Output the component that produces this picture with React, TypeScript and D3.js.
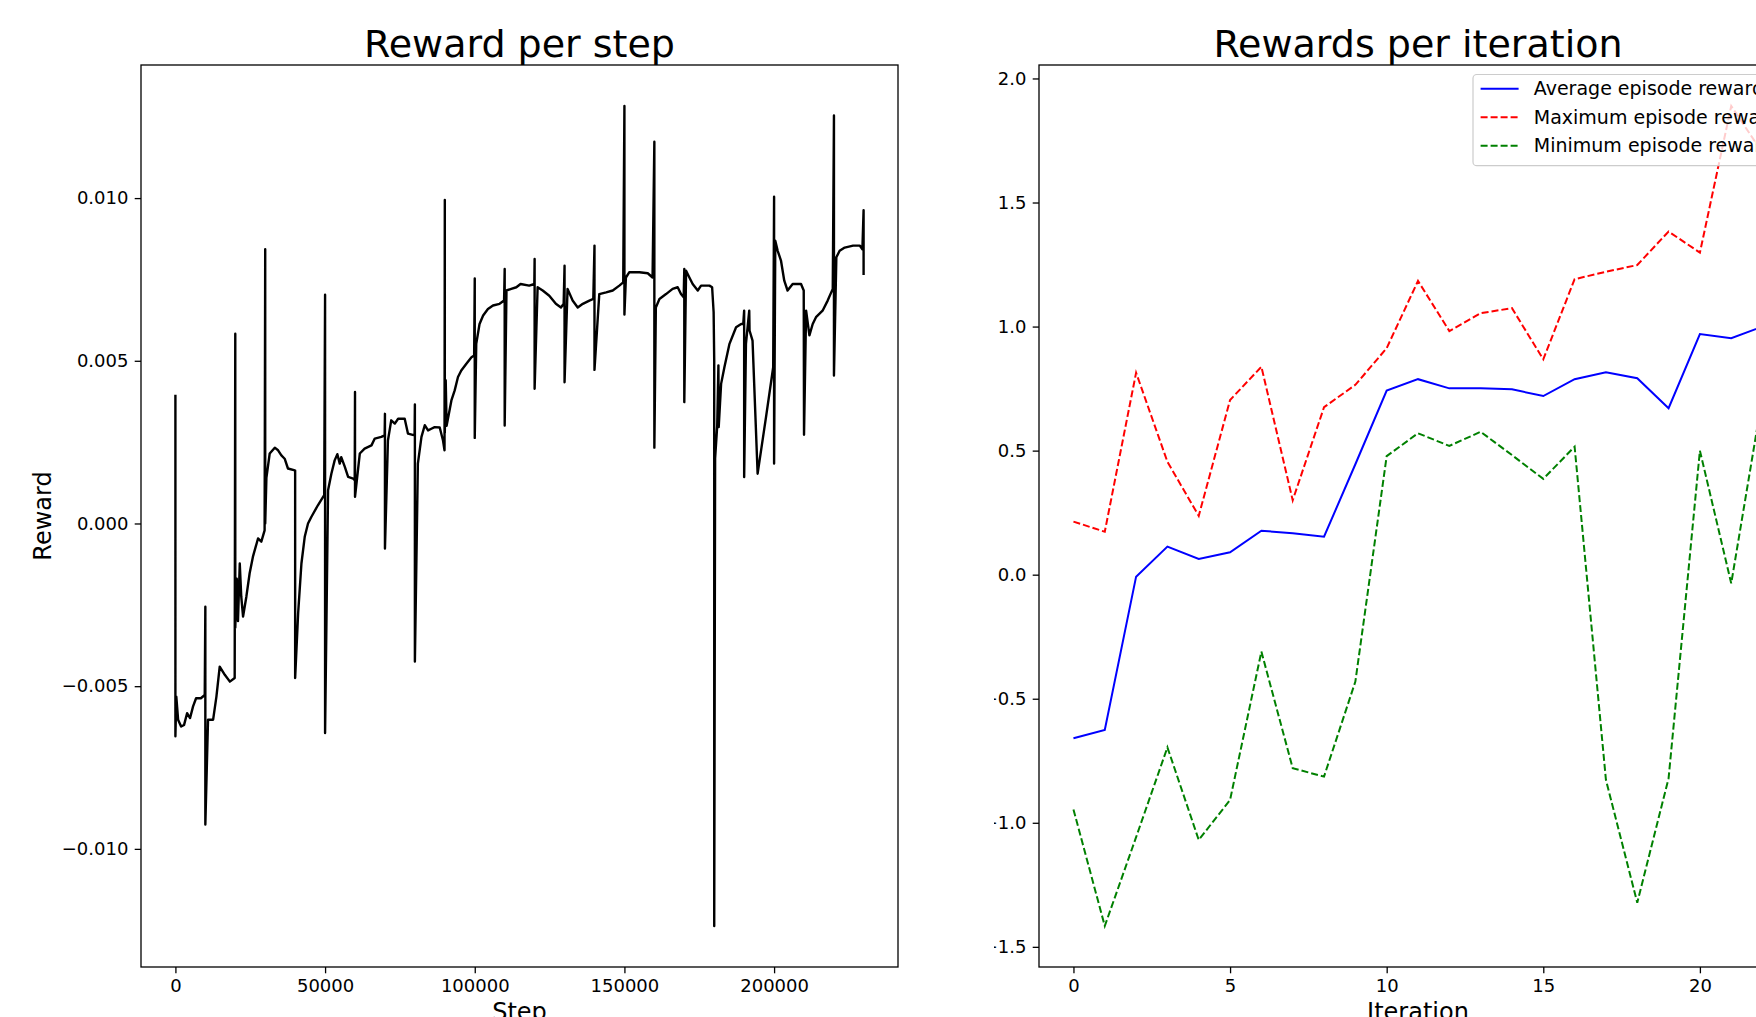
import React, { useEffect, useRef } from "react";
import * as d3 from "d3";

// Reward per step: (step, reward) pairs, spikes as two points on the same step
const stepSteps = [
  0, 0, 300, 900, 1900, 2900, 3900, 4900, 5900, 6900, 8500, 9800,
  10000, 10000, 10900, 12600, 13700, 14800, 16500, 18200, 19800,
  20000, 20000, 20500, 20900, 21500, 22000, 22600, 23700, 24800, 25900, 27600, 28700, 29800,
  30000, 30000, 30400, 31500, 33200, 34300, 35400, 36500, 37600, 39900,
  40000, 40000, 41000, 42100, 43200, 44300, 45400, 47600, 49700,
  50000, 50000, 51000, 52100, 53200, 54100, 54900, 55400, 56600, 57700, 59400, 59900,
  60000, 60000, 61600, 63200, 65500, 66600, 68800, 69900,
  70000, 70000, 71000, 72100, 73300, 74400, 76600, 77700, 79900,
  80000, 80000, 81000, 82200, 83300, 84400, 85500, 86600, 88300, 89400, 89900,
  90000, 90000, 90300, 90600, 92200, 93300, 94400, 95500, 97200, 98900, 99800,
  100000, 100000, 100500, 101600, 102800, 104400, 106100, 108300, 109800,
  110000, 110000, 110600, 112200, 113900, 115300, 118200, 119900,
  120000, 120000, 121000, 122700, 124900, 127100, 128800, 129700,
  130000, 130000, 131000, 132700, 134400, 136100, 138300, 139600,
  140000, 140000, 141600, 143900, 146100, 148300, 149600,
  150000, 150000, 150500, 151600, 155000, 157800, 159400,
  160000, 160000, 160500, 161700, 163900, 166100, 167800, 168900, 169800,
  170000, 170000, 170600, 171700, 172800, 174500, 175600, 178400, 179300, 179800,
  180000, 180000, 180300, 181000, 181400, 181500, 182300, 183400, 185100, 187300, 189000, 189700,
  190000, 190000, 190600, 191700, 191800, 192800, 194500, 197300, 199700,
  200000, 200000, 200400, 201200, 202300, 203400, 204500, 206200, 209000, 209900,
  210000, 210700, 211800, 212900, 214000, 216200, 217900, 219600,
  220000, 220000, 220800, 221900, 223600, 226400, 228600, 229500,
  229900, 229900,
];

const stepRewards = [
  0.00396, -0.00654, -0.00532, -0.00603, -0.00624, -0.00619, -0.00583, -0.00598, -0.00562, -0.00537, -0.00537, -0.00527,
  -0.00256, -0.00925, -0.00603, -0.00603, -0.00532, -0.0044, -0.00465, -0.00486, -0.00475,
  0.00583, -0.0032, -0.0017, -0.003, -0.00123, -0.00225, -0.00286, -0.00225, -0.00153, -0.00102, -0.00046, -0.00056, -0.00021,
  0.00843, 0.0, 0.0014, 0.00215, 0.00233, 0.00225, 0.00209, 0.00199, 0.00169, 0.00163,
  0.00163, -0.00475, -0.00276, -0.00123, -0.00041, 0.0, 0.0002, 0.00056, 0.00087,
  0.00703, -0.00644, 0.00102, 0.00153, 0.00194, 0.00213, 0.00184, 0.00204, 0.00174, 0.00143, 0.00138, 0.00133,
  0.00404, 0.00082, 0.00215, 0.0023, 0.0024, 0.00261, 0.00266, 0.00271,
  0.00337, -0.00077, 0.00255, 0.00317, 0.00307, 0.00322, 0.00322, 0.00276, 0.00271,
  0.00366, -0.00424, 0.00184, 0.00266, 0.00302, 0.00286, 0.00291, 0.00296, 0.00295, 0.00255, 0.00225,
  0.00994, 0.0028, 0.0044, 0.003, 0.00378, 0.00409, 0.0045, 0.0047, 0.00491, 0.00511, 0.00516,
  0.00753, 0.00263, 0.00552, 0.00613, 0.00639, 0.00659, 0.0067, 0.00675, 0.00685,
  0.00782, 0.00301, 0.00716, 0.00721, 0.00726, 0.00736, 0.00731, 0.00736,
  0.00813, 0.00414, 0.00726, 0.00716, 0.007, 0.00675, 0.00664, 0.00675,
  0.00792, 0.00434, 0.00721, 0.00685, 0.00664, 0.00675, 0.00685, 0.0069,
  0.00854, 0.00472, 0.00705, 0.0071, 0.00716, 0.00731, 0.00741,
  0.01283, 0.00642, 0.00756, 0.00772, 0.00772, 0.00769, 0.00756,
  0.01173, 0.00233, 0.00664, 0.0069, 0.00705, 0.00721, 0.00726, 0.00705, 0.00695,
  0.00782, 0.00373, 0.00777, 0.00756, 0.00736, 0.00716, 0.00731, 0.00731, 0.00726, 0.0065,
  0.005, -0.01237, 0.002, 0.003, 0.00486, 0.00296, 0.00429, 0.0048, 0.00552, 0.00603, 0.00613, 0.00613,
  0.00654, 0.00143, 0.00552, 0.00654, 0.00593, 0.00562, 0.00153, 0.00327, 0.0048,
  0.01004, 0.00184, 0.00869, 0.00838, 0.00808, 0.00746, 0.00716, 0.00736, 0.00736, 0.00716,
  0.00273, 0.00654, 0.00578, 0.00613, 0.00634, 0.00654, 0.00685, 0.00721,
  0.01254, 0.00455, 0.00818, 0.00838, 0.00848, 0.00854, 0.00854, 0.00843,
  0.00963, 0.00764,
];

const stepTicks = [0, 50000, 100000, 150000, 200000];
const stepRewardTicks = [-0.01, -0.005, 0, 0.005, 0.01];

// Rewards per iteration
const iterations = [0, 1, 2, 3, 4, 5, 6, 7, 8, 9, 10, 11, 12, 13, 14, 15, 16, 17, 18, 19, 20, 21, 22];
const avgReward = [
  -0.659, -0.626, -0.008, 0.113, 0.063, 0.09, 0.177, 0.167, 0.153, 0.445, 0.742, 0.788,
  0.751, 0.751, 0.747, 0.72, 0.788, 0.816, 0.792, 0.671, 0.97, 0.953, 1.0,
];
const maxReward = [
  0.214, 0.173, 0.814, 0.455, 0.237, 0.704, 0.838, 0.3, 0.675, 0.765, 0.913, 1.184,
  0.982, 1.054, 1.074, 0.868, 1.191, 1.221, 1.248, 1.383, 1.298, 1.889, 1.7,
];
const minReward = [
  -0.946, -1.416, -1.058, -0.696, -1.069, -0.908, -0.31, -0.78, -0.814, -0.431, 0.478, 0.57,
  0.519, 0.576, 0.482, 0.386, 0.516, -0.827, -1.322, -0.821, 0.5, -0.035, 0.72,
];
const iterTicks = [0, 5, 10, 15, 20, 25];
const iterRewardTicks = [-1.5, -1.0, -0.5, 0.0, 0.5, 1.0, 1.5, 2.0];

const seriesInfo = [
  { label: "Average episode reward", values: avgReward, color: "#0000ff", dash: null },
  { label: "Maximum episode reward", values: maxReward, color: "#ff0000", dash: "7,3" },
  { label: "Minimum episode reward", values: minReward, color: "#008000", dash: "7,3" },
];

const FONT = "'DejaVu Sans', sans-serif";

// matplotlib style autoscale: data extent padded by 5% each side
const padded = (vals) => {
  const [lo, hi] = d3.extent(vals);
  const m = (hi - lo) * 0.05;
  return [lo - m, hi + m];
};

const drawFrame = (svg, box, x, y, xTicks, yTicks, xFmt, yFmt, title, xLabel, yLabel) => {
  const tickLen = 6.3;

  svg.append("rect")
    .attr("x", box.left).attr("y", box.top)
    .attr("width", box.right - box.left).attr("height", box.bottom - box.top)
    .attr("fill", "none").attr("stroke", "#000").attr("stroke-width", 1.3);

  const styleAxis = (g) => {
    g.select(".domain").remove();
    g.selectAll(".tick line").attr("stroke", "#000").attr("stroke-width", 1.3);
    g.selectAll(".tick text").attr("fill", "#000").style("font-family", FONT).style("font-size", "18px");
  };

  svg.append("g")
    .attr("transform", `translate(0,${box.bottom})`)
    .call(d3.axisBottom(x).tickValues(xTicks).tickFormat(xFmt).tickSize(tickLen).tickPadding(6.3))
    .call(styleAxis);

  svg.append("g")
    .attr("transform", `translate(${box.left},0)`)
    .call(d3.axisLeft(y).tickValues(yTicks).tickFormat(yFmt).tickSize(tickLen).tickPadding(6.3))
    .call(styleAxis);

  const cx = (box.left + box.right) / 2;
  svg.append("text")
    .attr("x", cx).attr("y", 57)
    .attr("text-anchor", "middle")
    .style("font-family", FONT).style("font-size", "38px")
    .text(title);

  svg.append("text")
    .attr("x", cx).attr("y", 1019.5)
    .attr("text-anchor", "middle")
    .style("font-family", FONT).style("font-size", "24px")
    .text(xLabel);

  if (yLabel) {
    svg.append("text")
      .attr("transform", `translate(51,${(box.top + box.bottom) / 2}) rotate(-90)`)
      .attr("text-anchor", "middle")
      .style("font-family", FONT).style("font-size", "24px")
      .text(yLabel);
  }
};

const App = () => {
  const svgRef = useRef(null);

  useEffect(() => {
    const svg = d3.select(svgRef.current);
    svg.selectAll("*").remove();

    // ---- left: reward per step ----
    const L = { left: 141, right: 898, top: 65, bottom: 967 };
    const xL = d3.scaleLinear().domain(padded(stepSteps)).range([L.left, L.right]);
    const yL = d3.scaleLinear().domain(padded(stepRewards)).range([L.bottom, L.top]);

    const left = svg.append("g");
    left.append("path")
      .datum(stepSteps.map((s, i) => [s, stepRewards[i]]))
      .attr("fill", "none")
      .attr("stroke", "#000")
      .attr("stroke-width", 2.4)
      .attr("stroke-linejoin", "round")
      .attr("d", d3.line().x((d) => xL(d[0])).y((d) => yL(d[1])));

    drawFrame(left, L, xL, yL, stepTicks, stepRewardTicks, d3.format("d"), d3.format(".3f"),
      "Reward per step", "Step", "Reward");

    // ---- right: rewards per iteration (cropped on both sides like the source image) ----
    svg.append("clipPath").attr("id", "right-crop")
      .append("rect").attr("x", 994).attr("y", 0).attr("width", 800).attr("height", 1017);

    const R = { left: 1039, right: 1797, top: 65, bottom: 967 };
    const xR = d3.scaleLinear().domain(padded(iterations)).range([R.left, R.right]);
    const yR = d3.scaleLinear().domain(padded([...avgReward, ...maxReward, ...minReward])).range([R.bottom, R.top]);

    const right = svg.append("g").attr("clip-path", "url(#right-crop)");

    const line = d3.line().x((_, i) => xR(iterations[i])).y((d) => yR(d));
    seriesInfo.forEach((s) => {
      right.append("path")
        .datum(s.values)
        .attr("fill", "none")
        .attr("stroke", s.color)
        .attr("stroke-width", 2)
        .attr("stroke-dasharray", s.dash)
        .attr("d", line);
    });

    drawFrame(right, R, xR, yR, iterTicks, iterRewardTicks, d3.format("d"), d3.format(".1f"),
      "Rewards per iteration", "Iteration", null);

    // legend, upper right
    const fs = 19;
    const lgRight = R.right - 0.5 * fs;
    const lgLeft = 1473;
    const lgTop = R.top + 0.5 * fs;
    const rowH = fs * 1.5;
    const lg = right.append("g");
    lg.append("rect")
      .attr("x", lgLeft).attr("y", lgTop)
      .attr("width", lgRight - lgLeft)
      .attr("height", 0.8 * fs + seriesInfo.length * rowH - 0.5 * fs)
      .attr("rx", 3.8)
      .attr("fill", "#fff").attr("fill-opacity", 0.8)
      .attr("stroke", "#cccccc").attr("stroke-width", 1.2);
    seriesInfo.forEach((s, i) => {
      const cy = lgTop + 0.4 * fs + 0.35 * fs + i * rowH;
      lg.append("line")
        .attr("x1", lgLeft + 0.4 * fs).attr("x2", lgLeft + 2.4 * fs)
        .attr("y1", cy).attr("y2", cy)
        .attr("stroke", s.color).attr("stroke-width", 2)
        .attr("stroke-dasharray", s.dash);
      lg.append("text")
        .attr("x", lgLeft + 3.2 * fs).attr("y", cy)
        .attr("dy", "0.35em")
        .style("font-family", FONT).style("font-size", `${fs}px`)
        .text(s.label);
    });
  }, []);

  return (
    <div style={{ position: "absolute", left: 0, top: 0, width: 1756, height: 1017, overflow: "hidden" }}>
      <svg ref={svgRef} width={1756} height={1017} style={{ display: "block", background: "#fff" }}></svg>
    </div>
  );
};

export default App;
